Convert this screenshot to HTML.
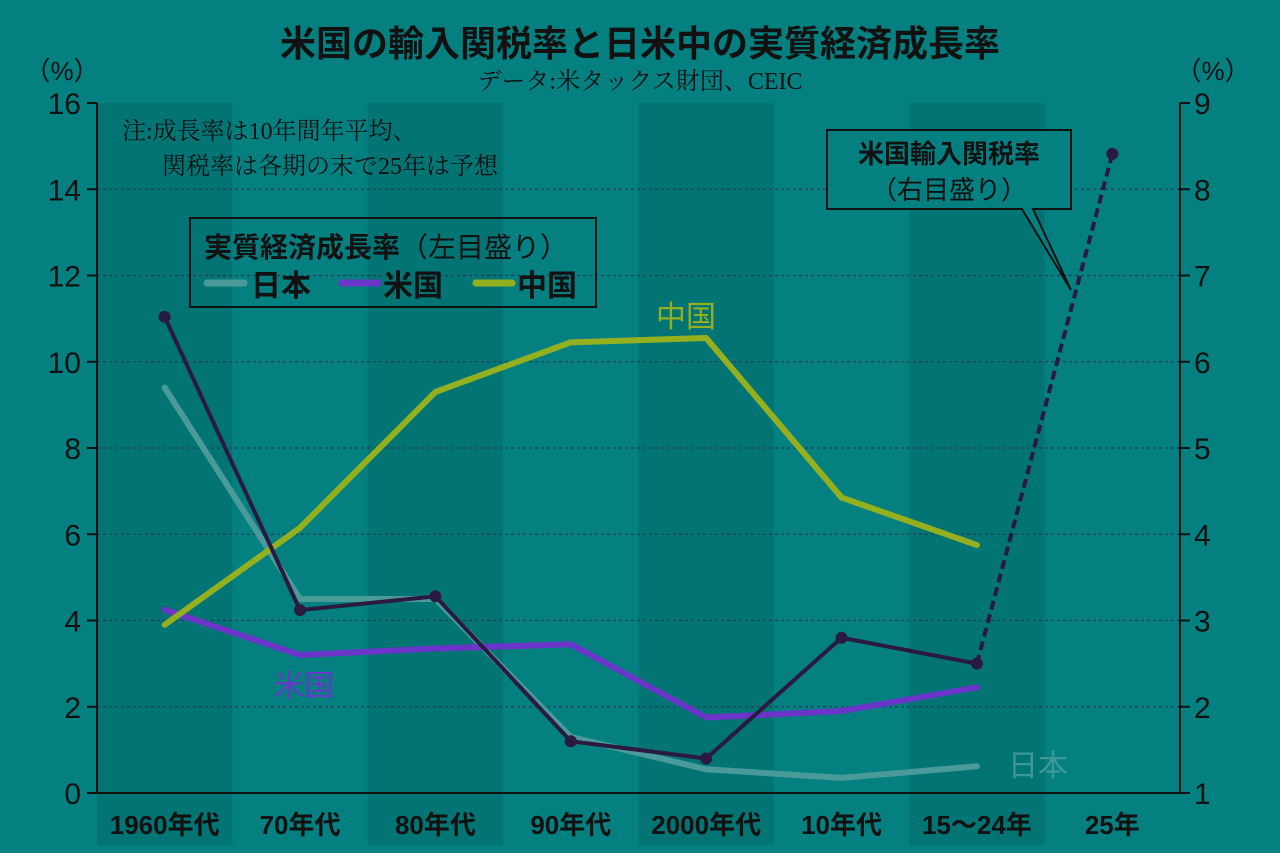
<!DOCTYPE html>
<html><head><meta charset="utf-8"><style>
html,body{margin:0;padding:0;background:#058080;}
svg{display:block;font-family:"Liberation Sans","Noto Sans CJK JP",sans-serif;}
</style></head><body>
<svg id="c" width="1280" height="853" viewBox="0 0 1280 853">
<rect width="1280" height="853" fill="#058080"/>
<g id="bands"></g><g id="grid"></g>
<text x="640" y="56" text-anchor="middle" font-size="36" font-weight="bold" fill="#111">米国の輸入関税率と日米中の実質経済成長率</text>
<text x="640" y="89" text-anchor="middle" font-size="24" fill="#111" font-family="'Liberation Serif','Noto Serif CJK SC',serif">データ:米タックス財団、CEIC</text>
<text x="62" y="80" text-anchor="middle" font-size="26" fill="#111">（%）</text>
<text x="1213" y="80" text-anchor="middle" font-size="26" fill="#111">（%）</text>
<text x="122" y="139" font-size="24" fill="#111" font-family="'Liberation Serif','Noto Serif CJK SC',serif">注:成長率は10年間年平均、</text>
<text x="162" y="174" font-size="24" fill="#111" font-family="'Liberation Serif','Noto Serif CJK SC',serif">関税率は各期の末で25年は予想</text>
<g>
<rect x="190" y="218" width="406" height="89" fill="none" stroke="#111" stroke-width="2"/>
<text x="204" y="257" font-size="28" fill="#111"><tspan font-weight="bold">実質経済成長率</tspan>（左目盛り）</text>
<line x1="207" y1="283" x2="244" y2="283" stroke="#4a9a9a" stroke-width="7" stroke-linecap="round"/>
<text x="251" y="296" font-size="30" font-weight="bold" fill="#111">日本</text>
<line x1="342" y1="283" x2="378" y2="283" stroke="#6a35c8" stroke-width="7" stroke-linecap="round"/>
<text x="383" y="296" font-size="30" font-weight="bold" fill="#111">米国</text>
<line x1="476" y1="283" x2="512" y2="283" stroke="#94b01e" stroke-width="7" stroke-linecap="round"/>
<text x="517" y="296" font-size="30" font-weight="bold" fill="#111">中国</text>
</g>
<g>
<polygon points="827,130 1071,130 1071,209 1033,209 1071,290 1022,209 827,209" fill="#058080" stroke="#111" stroke-width="2"/>
<text x="949" y="163" text-anchor="middle" font-size="26" font-weight="bold" fill="#111">米国輸入関税率</text>
<text x="949" y="199" text-anchor="middle" font-size="26" fill="#111">（右目盛り）</text>
</g>
<g id="series"></g><g id="axes"></g>
<text x="686" y="327" text-anchor="middle" font-size="30" fill="#94b01e">中国</text>
<text x="304" y="696" text-anchor="middle" font-size="30" fill="#6a35c8">米国</text>
<text x="1038" y="776" text-anchor="middle" font-size="30" fill="#3f9898">日本</text>
</svg>
<script>
const categories=["1960年代","70年代","80年代","90年代","2000年代","10年代","15〜24年","25年"];
const japan=[9.4,4.5,4.5,1.3,0.55,0.35,0.62];
const us=[4.25,3.2,3.35,3.45,1.75,1.9,2.45];
const china=[3.9,6.15,9.3,10.45,10.55,6.85,5.75];
const tariff=[6.52,3.12,3.28,1.6,1.4,2.8,2.5,8.41];
const leftTicks=[0,2,4,6,8,10,12,14,16];
const rightTicks=[1,2,3,4,5,6,7,8,9];
const X0=97,X1=1180,Y0=793,Y1=103,bw=(X1-X0)/8;
const xc=i=>X0+bw*(i+0.5);
const yl=v=>Y0-(v/16)*(Y0-Y1);
const yr=v=>Y0-((v-1)/8)*(Y0-Y1);
const NS="http://www.w3.org/2000/svg";
function mk(tag,attrs,parent){const e=document.createElementNS(NS,tag);for(const k in attrs)e.setAttribute(k,attrs[k]);document.getElementById(parent).appendChild(e);return e;}
categories.forEach((c,i)=>{
 if(i%2===0){const r=mk('rect',{x:X0+bw*i,y:Y1,width:bw,height:Y0-Y1+52,fill:'#027474'},'bands');
 
 }
 const t=mk('text',{x:xc(i),y:834,'text-anchor':'middle','font-size':26,'font-weight':'bold',fill:'#111'},'axes');t.textContent=c;
 
 
});
leftTicks.forEach(v=>{
 const y=yl(v);
 if(v>0&&v<16){const g=mk('line',{x1:X0,x2:X1,y1:y,y2:y,stroke:'#1f3f5a','stroke-width':1.2,'stroke-dasharray':'3,3'},'grid');
 
 }
 mk('line',{x1:X0-10,x2:X0,y1:y,y2:y,stroke:'#111','stroke-width':2},'axes');
 const t=mk('text',{x:X0-16,y:y+11,'text-anchor':'end','font-size':30,fill:'#111'},'axes');t.textContent=v;
 
 
});
rightTicks.forEach(v=>{
 const y=yr(v);
 mk('line',{x1:X1,x2:X1+10,y1:y,y2:y,stroke:'#111','stroke-width':2},'axes');
 const t=mk('text',{x:X1+14,y:y+11,'font-size':30,fill:'#111'},'axes');t.textContent=v;
 
 
});
mk('line',{x1:X0,x2:X0,y1:Y1,y2:Y0,stroke:'#111','stroke-width':2},'axes');
mk('line',{x1:X1,x2:X1,y1:Y1,y2:Y0,stroke:'#111','stroke-width':2},'axes');
mk('line',{x1:X0,x2:X1,y1:Y0,y2:Y0,stroke:'#111','stroke-width':2},'axes');
function line(arr,f,color,w,name){
 const p=mk('polyline',{points:arr.map((v,i)=>xc(i)+','+f(v)).join(' '),fill:'none',stroke:color,'stroke-width':w,'stroke-linejoin':'round','stroke-linecap':'round'},'series');
 
 
}
line(japan,yl,'#4a9a9a',6,'japan-line');
line(us,yl,'#6a35c8',6,'us-line');
line(china,yl,'#94b01e',6,'china-line');
line(tariff.slice(0,7),yr,'#2a1a40',4,'tariff-line');
const n=tariff.length;
const d=mk('line',{x1:xc(n-2),y1:yr(tariff[n-2]),x2:xc(n-1),y2:yr(tariff[n-1]),stroke:'#2a1a40','stroke-width':4,'stroke-dasharray':'9,5'},'series');


tariff.forEach((v,i)=>{
 const c=mk('circle',{cx:xc(i),cy:yr(v),r:6,fill:'#2a1a40'},'series');
 
 
});
</script>
</body></html>
